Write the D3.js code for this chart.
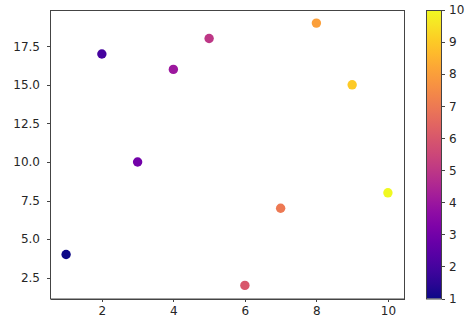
<!DOCTYPE html>
<html lang="en">
<head>
<meta charset="utf-8">
<title>Scatter</title>
<style>
    body { margin: 0; background: #fff; }
    svg { display: block; }
    .axis text { font: 12px "DejaVu Sans", sans-serif; fill: #262626; }
    .axis path, .axis line { stroke: #444; shape-rendering: crispEdges; }
</style>
</head>
<body>
<div id="chart"></div>
<script src="https://d3js.org/d3.v7.min.js"></script>
<script>
    // data
    var xs = [1, 2, 3, 4, 5, 6, 7, 8, 9, 10];
    var ys = [4, 17, 10, 16, 18, 2, 7, 19, 15, 8];
    var cs = [1, 2, 3, 4, 5, 6, 7, 8, 9, 10];
    var yTicks = [2.5, 5, 7.5, 10, 12.5, 15, 17.5];
    var xTicks = [2, 4, 6, 8, 10];
    var cTicks = [1, 2, 3, 4, 5, 6, 7, 8, 9, 10];

    var W = 474, H = 329;
    var plot = { left: 50, right: 404, top: 10, bottom: 298.5 };
    var bar = { left: 426, right: 441 };

    var svg = d3.select("#chart").append("svg")
        .attr("width", W).attr("height", H);

    var x = d3.scaleLinear().domain([0.55, 10.45]).range([plot.left, plot.right]);
    var y = d3.scaleLinear().domain([1.15, 19.85]).range([plot.bottom, plot.top]);
    var c = d3.scaleSequential(d3.interpolatePlasma).domain([1, 10]);

    svg.append("g")
        .attr("class", "axis")
        .attr("transform", "translate(0," + plot.bottom + ")")
        .call(d3.axisBottom(x).tickValues(xTicks).tickSize(3.5).tickPadding(4.5).tickSizeOuter(0));

    svg.append("g")
        .attr("class", "axis")
        .attr("transform", "translate(" + plot.left + ",0)")
        .call(d3.axisLeft(y).tickValues(yTicks).tickFormat(d3.format(".1f")).tickSize(3.5).tickPadding(6.5).tickSizeOuter(0));

    // frame
    svg.append("rect")
        .attr("x", plot.left + 0.5).attr("y", plot.top + 0.5)
        .attr("width", plot.right - plot.left).attr("height", plot.bottom - plot.top)
        .attr("fill", "none").attr("stroke", "#444");

    var pts = xs.map(function(d, i) { return { x: d, y: ys[i], c: cs[i] }; });
    svg.selectAll(".dot")
        .data(pts)
        .enter().append("circle")
        .attr("class", "dot")
        .attr("cx", function(d) { return x(d.x); })
        .attr("cy", function(d) { return y(d.y); })
        .attr("r", 4.7)
        .attr("fill", function(d) { return c(d.c); });

    // colorbar
    var cy = d3.scaleLinear().domain([1, 10]).range([plot.bottom, plot.top]);
    var defs = svg.append("defs");
    var grad = defs.append("linearGradient")
        .attr("id", "plasma").attr("x1", 0).attr("y1", 1).attr("x2", 0).attr("y2", 0);
    d3.range(0, 1.0001, 0.05).forEach(function(t) {
        grad.append("stop").attr("offset", t).attr("stop-color", d3.interpolatePlasma(t));
    });
    svg.append("rect")
        .attr("x", bar.left).attr("y", plot.top)
        .attr("width", bar.right - bar.left).attr("height", plot.bottom - plot.top)
        .attr("fill", "url(#plasma)");
    svg.append("rect")
        .attr("x", bar.left + 0.5).attr("y", plot.top + 0.5)
        .attr("width", bar.right - bar.left).attr("height", plot.bottom - plot.top)
        .attr("fill", "none").attr("stroke", "#444");

    svg.append("g")
        .attr("class", "axis")
        .attr("transform", "translate(" + (bar.right + 0.5) + ",0)")
        .call(d3.axisRight(cy).tickValues(cTicks).tickSize(3.5).tickPadding(4).tickSizeOuter(0))
        .select(".domain").remove();
</script>
</body>
</html>
